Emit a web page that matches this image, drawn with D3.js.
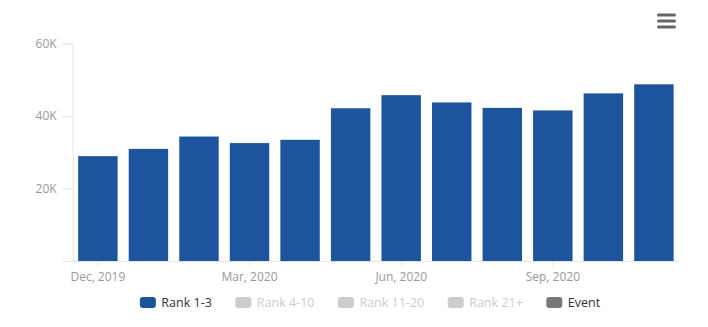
<!DOCTYPE html>
<html>
<head>
<meta charset="utf-8">
<script src="https://cdn.jsdelivr.net/npm/d3@7"></script>
<style>
  html, body { margin: 0; padding: 0; background: #fff; }
  svg { display: block; font-family: "Open Sans", sans-serif; }
</style>
</head>
<body>
<svg id="chart" width="708" height="327"></svg>
<script>
const months = ["Dec, 2019","Jan, 2020","Feb, 2020","Mar, 2020","Apr, 2020","May, 2020",
                "Jun, 2020","Jul, 2020","Aug, 2020","Sep, 2020","Oct, 2020","Nov, 2020"];
const rank13 = [28900, 30900, 34300, 32500, 33400, 42100, 45700, 43700, 42200, 41500, 46200, 48700];
const xTickLabels = ["Dec, 2019","Mar, 2020","Jun, 2020","Sep, 2020"];
const yTicks = [0, 20000, 40000, 60000];
const legendItems = ["Rank 1-3","Rank 4-10","Rank 11-20","Rank 21+","Event"];
const legendColors = ["#1d549e","#cccccc","#cccccc","#cccccc","#777777"];
const legendText = ["#333333","#cccccc","#cccccc","#cccccc","#333333"];

const svg = d3.select("#chart");
const mLeft = 72.6, mRight = 679.2, mTop = 43.3, mBottom = 261;

const x = d3.scaleBand().domain(months).range([mLeft, mRight]).paddingInner(0.22).paddingOuter(0.11);
const y = d3.scaleLinear().domain([0, 60000]).range([mBottom, mTop]);

// y axis
const yAxis = svg.append("g").attr("transform", `translate(${mLeft},0)`)
  .call(d3.axisLeft(y).tickValues(yTicks).tickSize(10).tickPadding(6)
    .tickFormat(d => d === 0 ? "" : (d / 1000) + "K"));
yAxis.select(".domain").attr("stroke", "#e6e6e6");
yAxis.selectAll(".tick line").attr("stroke", "#e6e6e6");
yAxis.selectAll(".tick text").attr("fill", "#999").style("font-size", "12px")
  .style("font-family", "'Open Sans', sans-serif");

// bars
svg.append("g").selectAll("rect").data(rank13).join("rect")
  .attr("x", (d, i) => x(months[i]))
  .attr("y", d => y(d))
  .attr("width", x.bandwidth())
  .attr("height", d => y(0) - y(d))
  .attr("fill", "#1d549e");

// x axis
const xAxis = svg.append("g").attr("transform", `translate(0,${mBottom})`)
  .call(d3.axisBottom(x).tickValues(xTickLabels).tickSize(5).tickPadding(6));
xAxis.select(".domain").attr("stroke", "#e6e6e6").attr("d", `M${mLeft},0.5H${mRight}`);
xAxis.selectAll(".tick line").attr("stroke", "#e6e6e6");
xAxis.selectAll(".tick text").attr("fill", "#999").style("font-size", "12px")
  .style("font-family", "'Open Sans', sans-serif");

// legend
const lg = svg.append("g");
let cx = 0;
legendItems.forEach((name, i) => {
  const g = lg.append("g").attr("transform", `translate(${cx},0)`);
  g.append("rect").attr("x", 0).attr("y", -5.5).attr("width", 16).attr("height", 11)
    .attr("rx", 3).attr("fill", legendColors[i]);
  const t = g.append("text").attr("x", 21.5).attr("y", 0).attr("dy", "0.35em")
    .attr("fill", legendText[i]).style("font-size", "12.5px").text(name);
  cx += 21.5 + t.node().getComputedTextLength() + 23.5;
});
const lw = cx - 23.5;
lg.attr("transform", `translate(${370 - lw / 2},302.5)`);

// menu icon
const menu = svg.append("g").attr("stroke", "#666").attr("stroke-width", 3).attr("stroke-linecap", "round");
[15, 21, 27].forEach(yy => menu.append("line").attr("x1", 658.5).attr("x2", 674.5).attr("y1", yy).attr("y2", yy));
</script>
</body>
</html>
